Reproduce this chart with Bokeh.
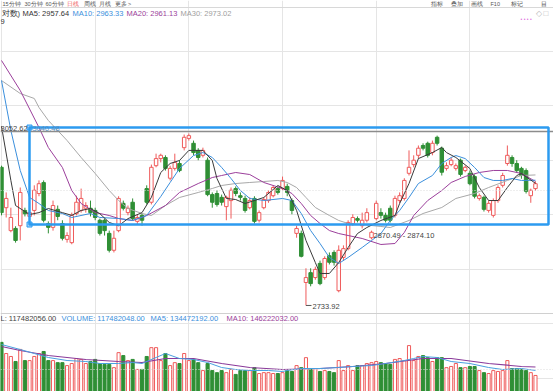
from bokeh.plotting import figure
from bokeh.models import Range1d, Label, Span, BoxAnnotation, ColumnDataSource
from bokeh.embed import file_html
from bokeh.resources import INLINE

# ---------------- data (daily candles) ----------------
opens = [2987, 2913, 2871, 2875, 2880, 2908, 2897, 2908, 2939, 2959,
         2884, 2877, 2910, 2884, 2855, 2849, 2902, 2908, 2912, 2912,
         2908, 2890, 2890, 2866, 2835, 2871, 2921, 2904, 2923, 2888,
         2899, 2948, 2923, 2990, 3003, 3005, 2967, 2985, 2994, 3023,
         3040, 3031, 3018, 3009, 3000, 2937, 2939, 2932, 2915, 2926,
         2948, 2935, 2930, 2913, 2930, 2890, 2913, 2926, 2935, 2948,
         2948, 2952, 2926, 2866, 2866, 2776, 2794, 2785, 2811, 2785,
         2825, 2831, 2761, 2822, 2838, 2884, 2893, 2880, 2890, 2858,
         2893, 2904, 2899, 2912, 2899, 2926, 2930, 2976, 2992, 3009,
         3027, 3031, 3014, 3042, 3022, 2985, 2992, 2985, 3000, 2981,
         2976, 2970, 2930, 2932, 2908, 2899, 2926, 2954, 2994, 3005,
         2994, 2985, 2981, 2935, 2948]
highs = [2990, 2941, 2913, 2879, 2950, 2913, 2908, 2954, 2963, 2963,
         2888, 2926, 2917, 2890, 2868, 2904, 2935, 2948, 2923, 2926,
         2913, 2893, 2893, 2871, 2871, 2934, 2926, 2917, 2930, 2901,
         2902, 2954, 2992, 3012, 3012, 3009, 2990, 3012, 3000, 3047,
         3049, 3036, 3022, 3023, 3005, 2941, 2945, 2937, 2935, 2950,
         2952, 2941, 2935, 2932, 2934, 2908, 2932, 2945, 2954, 2952,
         2970, 2957, 2930, 2880, 2871, 2802, 2802, 2805, 2816, 2824,
         2831, 2835, 2844, 2844, 2890, 2901, 2897, 2904, 2912, 2871,
         2926, 2912, 2904, 2917, 2935, 2941, 2967, 3018, 3009, 3027,
         3031, 3034, 3036, 3045, 3025, 2996, 3005, 2994, 3003, 2990,
         2981, 2974, 2939, 2935, 2926, 2930, 2954, 2977, 3027, 3009,
         3000, 2988, 2985, 2948, 2961]
lows = [2899, 2895, 2868, 2849, 2853, 2897, 2893, 2899, 2934, 2886,
        2866, 2871, 2890, 2853, 2849, 2846, 2899, 2904, 2904, 2897,
        2890, 2862, 2862, 2831, 2831, 2868, 2908, 2899, 2890, 2882,
        2880, 2919, 2919, 2987, 2996, 2981, 2963, 2981, 2978, 3018,
        3036, 3009, 3000, 3005, 2934, 2913, 2915, 2917, 2890, 2893,
        2934, 2926, 2904, 2910, 2884, 2886, 2910, 2922, 2932, 2937,
        2945, 2934, 2901, 2858, 2822, 2733.92, 2769, 2781, 2771, 2781,
        2809, 2807, 2758, 2816, 2835, 2880, 2886, 2875, 2886, 2855,
        2890, 2893, 2886, 2886, 2895, 2921, 2926, 2972, 2987, 3003,
        3018, 3005, 3009, 3027, 2972, 2981, 2989, 2981, 2970, 2978,
        2954, 2930, 2926, 2906, 2904, 2895, 2922, 2950, 2990, 2988,
        2977, 2966, 2939, 2922, 2944]
closes = [2904, 2930, 2895, 2853, 2941, 2902, 2904, 2945, 2957, 2890,
          2877, 2917, 2897, 2857, 2862, 2899, 2923, 2930, 2917, 2904,
          2895, 2866, 2871, 2835, 2857, 2930, 2912, 2912, 2893, 2895,
          2890, 2923, 2987, 3003, 3009, 2985, 2985, 2996, 2981, 3042,
          3045, 3014, 3005, 3018, 2937, 2923, 2919, 2923, 2932, 2945,
          2939, 2932, 2908, 2926, 2888, 2904, 2928, 2941, 2950, 2941,
          2963, 2941, 2908, 2875, 2824, 2785, 2774, 2800, 2774, 2820,
          2813, 2813, 2835, 2838, 2886, 2895, 2890, 2890, 2904, 2868,
          2921, 2899, 2890, 2890, 2930, 2935, 2963, 2987, 3000, 3022,
          3022, 3009, 3031, 3031, 2978, 2990, 3000, 2990, 2974, 2987,
          2957, 2934, 2935, 2910, 2921, 2926, 2950, 2972, 3009, 2994,
          2981, 2972, 2943, 2945, 2957]
# volume, millions of shares
volumes_m = [230, 192, 182, 165, 206, 168, 168, 182, 192, 199,
             168, 168, 161, 161, 151, 158, 175, 172, 158, 165,
             172, 158, 155, 155, 144, 195, 185, 168, 172, 138,
             138, 182, 212, 212, 168, 192, 151, 161, 158, 192,
             168, 172, 161, 134, 158, 134, 127, 134, 127, 138,
             121, 134, 134, 134, 144, 124, 127, 127, 124, 124,
             127, 134, 131, 151, 144, 178, 141, 141, 131, 134,
             131, 127, 168, 134, 151, 134, 151, 151, 158, 161,
             165, 161, 158, 155, 172, 175, 168, 219, 168, 182,
             185, 178, 165, 178, 178, 144, 148, 158, 144, 144,
             148, 148, 134, 127, 124, 134, 131, 134, 168, 141,
             141, 138, 134, 127, 117.482048]

# moving averages of price, read at knots (candle index, value)
ma5_idx = [0, 2, 3, 6, 8, 10, 13, 15, 17, 19, 21, 23, 25, 27, 30, 32, 34, 36, 38, 40,
           43, 45, 46, 48, 50, 52, 56, 59, 61, 63, 65, 67, 68, 70, 72, 74, 76, 78, 81, 84,
           85, 87, 89, 92, 94, 95, 97, 100, 102, 104, 106, 108, 110, 111, 114]
ma5_val = [3061.8, 2963, 2917, 2900.6, 2904, 2911.5, 2904, 2899, 2908, 2911.5, 2902, 2886,
           2880, 2893, 2904, 2932, 2977.5, 2994, 2999.5, 3018, 3018, 2999.5, 2966.5, 2930,
           2928, 2920.7, 2931.7, 2953.7, 2944.5, 2908, 2853, 2812.6, 2792.5, 2792.5, 2812.6,
           2840, 2865.7, 2876.7, 2889.6, 2898.7, 2920.7, 2957.3, 3003, 3014, 3023.3, 3014,
           3005, 2984.8, 2950, 2926.2, 2926.2, 2950, 2972, 2975.7, 2957.64]
ma10_idx = [0, 2, 4, 6, 8, 10, 13, 15, 19, 21, 25, 28, 31, 34, 36, 38, 41, 43, 45, 47,
            49, 51, 53, 56, 60, 62, 64, 66, 68, 70, 72, 74, 77, 79, 81, 83, 85, 87, 89, 92,
            94, 96, 97, 99, 101, 103, 105, 107, 109, 111, 114]
ma10_val = [3146, 3054.5, 2981.2, 2931.7, 2920.7, 2907.9, 2902.4, 2895.1, 2902.4, 2895.1,
            2893.2, 2889.6, 2898.7, 2933.5, 2959.2, 2984.8, 3008.6, 3014.1, 3005, 2986.7,
            2966.5, 2944.5, 2929.9, 2926.2, 2929.9, 2926.2, 2902.4, 2871.2, 2847.4, 2821.8,
            2810.8, 2821.8, 2840.1, 2852.9, 2865.7, 2889.6, 2907.9, 2931.7, 2957.3, 2972,
            2994, 3005, 3008.6, 3003, 2986.7, 2968.3, 2962.9, 2962.9, 2966.5, 2962.9, 2963.33]
ma20_idx = [0, 4, 8, 10, 13, 15, 17, 20, 23, 25, 28, 31, 35, 38, 42, 45, 47, 50, 53, 56,
            60, 62, 64, 66, 68, 70, 72, 74, 77, 81, 84, 86, 88, 91, 94, 96, 99, 102, 105, 108,
            111, 114]
ma20_val = [3182.7, 3127.7, 3059.9, 3023.3, 2986.7, 2944.5, 2920.7, 2904.2, 2898.7, 2893.2,
            2889.6, 2898.7, 2917, 2940.9, 2957.3, 2968.3, 2972, 2977.5, 2973.8, 2959.2,
            2948.2, 2939, 2920.7, 2898.7, 2884.1, 2871.2, 2865.7, 2862.1, 2856.6, 2845.6,
            2847.4, 2867.6, 2898.7, 2926.2, 2944.5, 2959.2, 2970.2, 2977.5, 2981.2, 2981.2,
            2975.7, 2961.13]
ma30_idx = [0, 4, 7, 8, 10, 14, 17, 20, 23, 25, 27, 30, 32, 35, 38, 42, 45, 47, 50, 53,
            56, 59, 61, 63, 65, 67, 70, 72, 74, 77, 81, 83, 87, 90, 94, 97, 101, 104, 108, 111,
            114]
ma30_val = [3146, 3122.2, 3113.1, 3096.6, 3072.8, 3036.1, 3005, 2975.7, 2944.5, 2926.2,
            2911.5, 2902.4, 2898.7, 2917, 2931.7, 2940.9, 2948.2, 2953.7, 2957.3, 2959.2,
            2961, 2962.9, 2959.2, 2950, 2931.7, 2913.4, 2898.7, 2889.6, 2884.1, 2882.2,
            2878.6, 2876.7, 2889.6, 2902.4, 2913.4, 2929.9, 2939, 2950, 2962.9, 2972, 2973.02]
# volume moving averages (millions)
vma5_idx = [0, 4, 7, 10, 14, 18, 21, 25, 28, 30, 33, 35, 38, 41, 44, 47, 50, 53, 57, 60,
            61, 64, 68, 72, 75, 79, 82, 86, 88, 90, 93, 96, 100, 104, 107, 111, 114]
vma5_val = [222.7, 205.7, 192.1, 178.5, 168.3, 164.9, 158.1, 158.1, 161.5, 158.1, 178.5,
            192.1, 175.1, 171.7, 161.5, 144.5, 137.7, 134.3, 134.3, 130.9, 134.3, 141.1,
            141.1, 144.5, 147.9, 151.3, 158.1, 168.3, 175.1, 181.9, 178.5, 164.9, 158.1,
            144.5, 137.7, 141.1, 134.472192]
vma10_idx = [0, 4, 10, 18, 25, 30, 35, 41, 47, 53, 60, 68, 75, 82, 90, 96, 104, 111, 114]
vma10_val = [215.9, 202.3, 185.3, 171.7, 164.9, 161.5, 175.1, 175.1, 158.1, 144.5, 137.7,
             141.1, 147.9, 158.1, 175.1, 175.1, 158.1, 147.9, 146.222032]

# annotation values
level_line = 3052.62
box_top, box_bottom = 3059.9, 2882.2
low_value = 2733.92

# ---------------- layout helpers (pixel placement) ----------------
W, H = 553, 391
BAR_PX, X0_PX = 4.684, 1.0
P_TOP, P_PER_PX = 3292.6, 1.832
V_BASE_PX, V_PER_PX = 409.5, 3.4


def xd(px):
    return (px - X0_PX) / BAR_PX


def pd(py):
    return P_TOP - P_PER_PX * py


def vd(py):
    return (V_BASE_PX - py) * V_PER_PX


RED, GREEN = "#ef5b5b", "#2f8f35"
FONT = "Liberation Sans"

p = figure(width=W, height=H, output_backend="svg", toolbar_location=None,
           x_range=Range1d(xd(0), xd(W)), y_range=Range1d(pd(H), pd(0)),
           x_axis_location=None, y_axis_location=None, min_border=0,
           background_fill_color="white", border_fill_color="white")
p.extra_y_ranges = {"vol": Range1d(vd(H), vd(0))}
p.outline_line_color = None

n = len(closes)
idx = list(range(n))
up = [c >= o for o, c in zip(opens, closes)]
src = ColumnDataSource(dict(
    x=idx, o=opens, h=highs, l=lows, c=closes,
    top=[max(o, c) for o, c in zip(opens, closes)],
    bot=[min(o, c) for o, c in zip(opens, closes)],
    col=[RED if u else GREEN for u in up],
    fill=["white" if u else GREEN for u in up],
    vol=[v for v in volumes_m],
))

# grid / separators
p.add_layout(Span(location=pd(190), dimension="width", line_color="#dddddd",
                  line_dash="1 2", line_width=1))
p.add_layout(Span(location=vd(369), dimension="width", line_color="#dddddd",
                  line_dash="1 2", line_width=1, y_range_name="vol"))
p.add_layout(Span(location=pd(313), dimension="width", line_color="#d0d0d0", line_width=1))
p.add_layout(Span(location=pd(7), dimension="width", line_color="#d8d8d8", line_width=1))
p.add_layout(Span(location=level_line, dimension="width", line_color="#8c8c8c", line_width=1.5))

# candles
p.segment(x0="x", y0="h", x1="x", y1="l", color="col", line_width=1, source=src)
p.vbar(x="x", top="top", bottom="bot", width=0.74, fill_color="fill", line_color="col",
       line_width=1, source=src)

# moving averages
p.line(ma30_idx, ma30_val, line_color="#a8a8a8", line_width=1)
p.line(ma20_idx, ma20_val, line_color="#9b3f9b", line_width=1)
p.line(ma10_idx, ma10_val, line_color="#3b8fdc", line_width=1)
p.line(ma5_idx, ma5_val, line_color="#3a3a3a", line_width=1)

# volume
p.vbar(x="x", top="vol", bottom=0, width=0.66, fill_color="fill", line_color="col",
       line_width=1, source=src, y_range_name="vol")
p.line(vma10_idx, vma10_val, line_color="#8a3a9a", line_width=1.2, y_range_name="vol")
p.line(vma5_idx, vma5_val, line_color="#4aa0e0", line_width=1, y_range_name="vol")

# drawn box
p.add_layout(BoxAnnotation(left=xd(29), right=xd(548), top=box_top, bottom=box_bottom,
                           fill_alpha=0, line_color="#2c9bf0", line_alpha=1, line_width=2.5))
p.scatter([xd(29), xd(29)], [box_top, box_bottom], marker="square", size=5,
          fill_color="#9fd0f8", line_color="#2c9bf0")


def lab(px, py, text, color="#333333", size="7.5px", align="left", base="middle"):
    p.add_layout(Label(x=xd(px), y=pd(py), text=text, text_color=color,
                       text_font=FONT, text_font_size=size, text_baseline=base,
                       text_align=align))


# top tab strip
tabs = [(2, "15分钟"), (24, "30分钟"), (45, "60分钟"), (66, "日线"), (83, "周线"),
        (98, "月线"), (114, "更多 >")]
for px, t in tabs:
    lab(px, 0.5, t, RED if t == "日线" else "#555555", "5.5px", base="top")
for px, t in [(430, "指标"), (450, "叠加"), (470, "画线"), (490, "F10"), (510, "标记"), (540, "目")]:
    lab(px, 0.5, t, "#555555", "5.5px", base="top")

# MA header
lab(1, 13, "对数)", "#333333")
lab(22, 13, "MA5: 2957.64", "#333333")
lab(72, 13, "MA10: 2963.33", "#3b8fdc")
lab(126, 13, "MA20: 2961.13", "#9b3f9b")
lab(180, 13, "MA30: 2973.02", "#a0a0a0")
lab(0, 21, "9", "#333333")
lab(535, 13, "◇", "#bbbbbb", "8px")
lab(543, 13, "□", "#bbbbbb", "8px")
lab(520, 18.5, "• • • •", "#e070e0", "5px")

# price labels
lab(0, 128, "3052.62", "#444444")
lab(32, 128, "3040.48", "#5a8fc0")
lab(373, 234.5, "2870.49 - 2874.10", "#444444")
p.segment(x0=[65], y0=[low_value], x1=[xd(311)], y1=[low_value], line_color="#555555",
          line_width=1)
lab(312, 306, "2733.92", "#444444")

# volume header
lab(0, 318, "L: 117482056.00", "#444444")
lab(61, 318, "VOLUME: 117482048.00", "#3b8fdc")
lab(150, 318, "MA5: 134472192.00", "#3b8fdc")
lab(226, 318, "MA10: 146222032.00", "#9b3f9b")

open("out.html", "w").write(file_html(p, INLINE))
